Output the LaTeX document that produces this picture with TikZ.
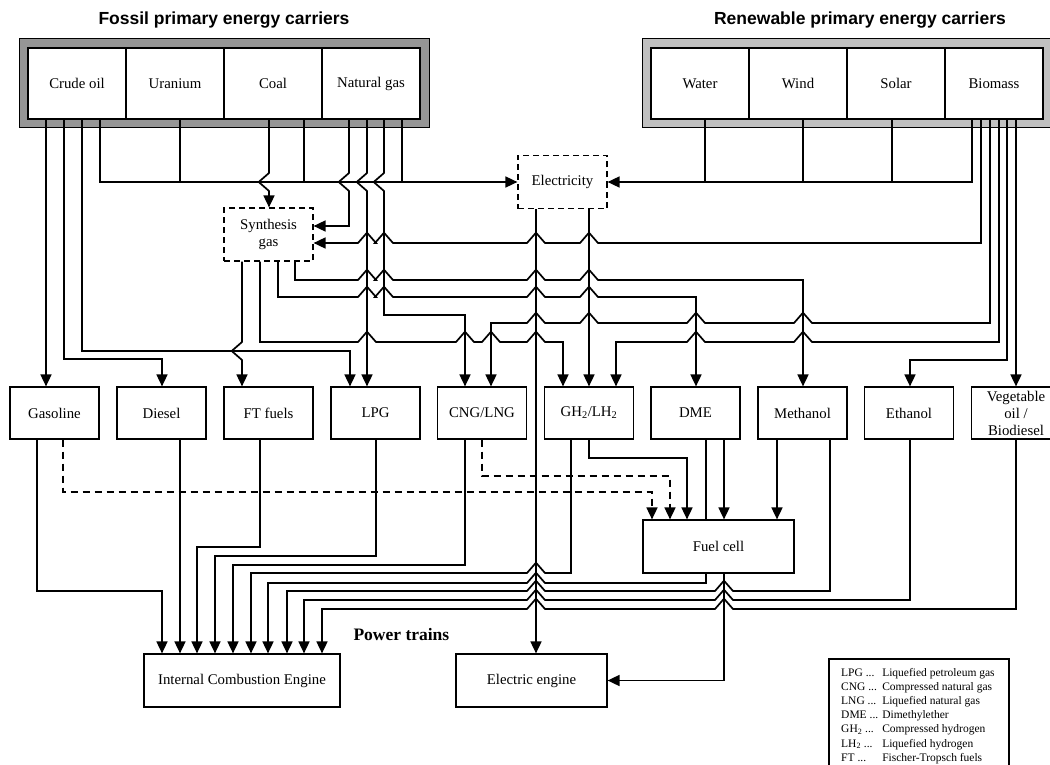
\documentclass[tikz,border=0pt]{standalone}
\usepackage{fontspec}
\setmainfont{Liberation Serif}
\newfontfamily\headfont{Liberation Sans}
\usetikzlibrary{arrows.meta}

\definecolor{fossilgray}{RGB}{150,150,150}
\definecolor{renewgray}{RGB}{192,192,192}

% hops: horizontal line going right / left, vertical line going down
\newcommand{\hopR}[2]{-- (#1-9,#2) -- (#1-2,#2-8) .. controls (#1,#2-10.5) .. (#1+2,#2-8) -- (#1+9,#2)}
\newcommand{\hopL}[2]{-- (#1+9,#2) -- (#1+2,#2-8) .. controls (#1,#2-10.5) .. (#1-2,#2-8) -- (#1-9,#2)}
\newcommand{\hopD}[2]{-- (#1,#2-9) -- (#1-8,#2-2) .. controls (#1-10.5,#2) .. (#1-8,#2+2) -- (#1,#2+9)}

\tikzset{
	cell/.style={draw, fill=white, line width=1.2pt, minimum width=98pt, minimum height=71pt, inner sep=0pt, font=\fontsize{14.8}{17}\selectfont},
	fuel/.style={draw, fill=white, line width=1.2pt, minimum width=89pt, minimum height=52pt, inner sep=0pt, align=center, font=\fontsize{14.8}{17}\selectfont},
	inter/.style={fuel, minimum height=53pt, dash pattern=on 6pt off 4pt},
	engine/.style={fuel, minimum height=53pt},
	link/.style={line width=1.7pt},
	flow/.style={link, -{Triangle[length=12pt,width=11pt]}},
	dflow/.style={flow, dash pattern=on 7pt off 5pt},
	headline/.style={font=\headfont\bfseries\fontsize{17.5}{20}\selectfont}
}

\begin{document}
\begin{tikzpicture}[x=1pt,y=-1pt]

	\useasboundingbox (0,0) rectangle (1050,765);

	% primary energy carriers
	\node[headline] (fossil) at (224,20) {Fossil primary energy carriers};
	\node[headline] (renew) at (860,20) {Renewable primary energy carriers};

	\draw[fill=fossilgray, line width=1pt] (19,39) rectangle (429,128);
	\draw[fill=renewgray, line width=1pt] (642,39) rectangle (1052,128);

	\node[cell] (crude) at (77,83.5) {Crude oil};
	\node[cell] (uranium) at (175,83.5) {Uranium};
	\node[cell] (coal) at (273,83.5) {Coal};
	\node[cell] (natgas) at (371,83.5) {Natural gas};

	\node[cell] (water) at (700,83.5) {Water};
	\node[cell] (wind) at (798,83.5) {Wind};
	\node[cell] (solar) at (896,83.5) {Solar};
	\node[cell] (biomass) at (994,83.5) {Biomass};

	% intermediate carriers
	\node[inter] (elec) at (562.5,182) {Electricity};
	\node[inter] (syngas) at (268.5,234.5) {Synthesis\\gas};

	% fuels
	\node[fuel] (gasoline) at (54.5,413) {Gasoline};
	\node[fuel] (diesel) at (161.5,413) {Diesel};
	\node[fuel] (ftfuels) at (268.5,413) {FT fuels};
	\node[fuel] (lpg) at (375.5,413) {LPG};
	\node[fuel] (cng) at (482,413) {CNG/LNG};
	\node[fuel] (ghlh) at (589,413) {GH\textsubscript{2}/LH\textsubscript{2}};
	\node[fuel] (dme) at (695.5,413) {DME};
	\node[fuel] (methanol) at (802.5,413) {Methanol};
	\node[fuel] (ethanol) at (909,413) {Ethanol};
	\node[fuel] (vegoil) at (1016,413) {Vegetable\\oil /\\Biodiesel};

	% power trains
	\node[engine, minimum width=151pt] (fuelcell) at (718.5,546.5) {Fuel cell};
	\node[engine, minimum width=196pt] (ice) at (242,680.5) {Internal Combustion Engine};
	\node[engine, minimum width=151pt] (eengine) at (531.5,680.5) {Electric engine};
	\node[anchor=west, font=\bfseries\fontsize{17.5}{20}\selectfont] (powertrains) at (350,635) {Power trains};

	% crude oil, uranium, coal, natural gas
	\draw[flow] (46,0 |- crude.south) -- (46,0 |- gasoline.north);
	\draw[flow] (64,0 |- crude.south) -- (64,359) -- (162,359) -- (162,0 |- diesel.north);
	\draw[flow] (82,0 |- crude.south) -- (82,351) -- (350,351) -- (350,0 |- lpg.north);
	\draw[flow] (100,0 |- crude.south) |- (elec.west);
	\draw[link] (180,0 |- uranium.south) -- (180,0 |- elec.west);
	\draw[flow] (269,0 |- coal.south) \hopD{269}{182} -- (269,0 |- syngas.north);
	\draw[link] (304,0 |- coal.south) -- (304,0 |- elec.west);
	\draw[flow] (349,0 |- natgas.south) \hopD{349}{182} -- (349,226) -- (syngas.east |- 0,226);
	\draw[flow] (367,0 |- natgas.south) \hopD{367}{182} -- (367,0 |- lpg.north);
	\draw[flow] (384,0 |- natgas.south) \hopD{384}{182} -- (384,315) -- (465,315) -- (465,0 |- cng.north);
	\draw[link] (402,0 |- natgas.south) -- (402,0 |- elec.west);

	% water, wind, solar, biomass
	\draw[flow] (972,0 |- biomass.south) |- (elec.east);
	\draw[link] (705,0 |- water.south) -- (705,0 |- elec.east);
	\draw[link] (803,0 |- wind.south) -- (803,0 |- elec.east);
	\draw[link] (892,0 |- solar.south) -- (892,0 |- elec.east);
	\draw[flow] (981,0 |- biomass.south) -- (981,243) \hopL{589}{243} \hopL{536}{243} \hopL{384}{243} \hopL{367}{243} -- (syngas.east |- 0,243);
	\draw[flow] (990,0 |- biomass.south) -- (990,323) \hopL{803}{323} \hopL{696}{323} \hopL{589}{323} \hopL{536}{323} -- (491,323) -- (491,0 |- cng.north);
	\draw[flow] (999,0 |- biomass.south) -- (999,342) \hopL{803}{342} \hopL{696}{342} -- (616,342) -- (616,0 |- ghlh.north);
	\draw[flow] (1007,0 |- biomass.south) -- (1007,360) -- (910,360) -- (910,0 |- ethanol.north);
	\draw[flow] (1016,0 |- biomass.south) -- (vegoil.north);

	% electricity and synthesis gas
	\draw[flow] (536,0 |- elec.south) -- (536,0 |- eengine.north);
	\draw[flow] (589,0 |- elec.south) -- (ghlh.north);
	\draw[flow] (242,0 |- syngas.south) \hopD{242}{351} -- (242,0 |- ftfuels.north);
	\draw[flow] (260,0 |- syngas.south) -- (260,342) \hopR{367}{342} \hopR{465}{342} \hopR{491}{342} \hopR{536}{342} -- (563,342) -- (563,0 |- ghlh.north);
	\draw[flow] (278,0 |- syngas.south) -- (278,297) \hopR{367}{297} \hopR{384}{297} \hopR{536}{297} \hopR{589}{297} -- (696,297) -- (696,0 |- dme.north);
	\draw[flow] (295,0 |- syngas.south) -- (295,280) \hopR{367}{280} \hopR{384}{280} \hopR{536}{280} \hopR{589}{280} -- (803,280) -- (803,0 |- methanol.north);

	% fuels to power trains
	\draw[flow] (37,0 |- gasoline.south) -- (37,591) -- (162,591) -- (162,0 |- ice.north);
	\draw[dflow] (63,0 |- gasoline.south) -- (63,492) -- (652,492) -- (652,0 |- fuelcell.north);
	\draw[flow] (180,0 |- diesel.south) -- (180,0 |- ice.north);
	\draw[flow] (260,0 |- ftfuels.south) -- (260,547) -- (197,547) -- (197,0 |- ice.north);
	\draw[flow] (376,0 |- lpg.south) -- (376,556) -- (215,556) -- (215,0 |- ice.north);
	\draw[flow] (465,0 |- cng.south) -- (465,565) -- (233,565) -- (233,0 |- ice.north);
	\draw[dflow] (482,0 |- cng.south) -- (482,476) -- (670,476) -- (670,0 |- fuelcell.north);
	\draw[flow] (571,0 |- ghlh.south) -- (571,573) \hopL{536}{573} -- (251,573) -- (251,0 |- ice.north);
	\draw[flow] (589,0 |- ghlh.south) -- (589,458) -- (687,458) -- (687,0 |- fuelcell.north);
	\draw[link] (706,0 |- dme.south) -- (706,0 |- fuelcell.north);
	\draw[flow] (706,0 |- fuelcell.south) -- (706,583) \hopL{536}{583} -- (268,583) -- (268,0 |- ice.north);
	\draw[flow] (724,0 |- dme.south) -- (724,0 |- fuelcell.north);
	\draw[flow] (777,0 |- methanol.south) -- (777,0 |- fuelcell.north);
	\draw[flow] (830,0 |- methanol.south) -- (830,591) \hopL{724}{591} \hopL{536}{591} -- (287,591) -- (287,0 |- ice.north);
	\draw[flow] (910,0 |- ethanol.south) -- (910,600) \hopL{724}{600} \hopL{536}{600} -- (304,600) -- (304,0 |- ice.north);
	\draw[flow] (1016,0 |- vegoil.south) -- (1016,609) \hopL{724}{609} \hopL{536}{609} -- (322,609) -- (322,0 |- ice.north);
	\draw[flow] (724,0 |- fuelcell.south) |- (eengine.east);

	% abbreviations
	\draw[line width=1.2pt] (829,770) -- (829,659) -- (1009,659) -- (1009,770);
	\node[anchor=north west, inner sep=0pt, font=\fontsize{11.5}{14.2}\selectfont] (legend) at (841,666) {%
		\begin{tabular}{@{}l@{\hspace{4pt}}l@{}}
			LPG ... & Liquefied petroleum gas\\
			CNG ... & Compressed natural gas\\
			LNG ... & Liquefied natural gas\\
			DME ... & Dimethylether\\
			GH\textsubscript{2} ... & Compressed hydrogen\\
			LH\textsubscript{2} ... & Liquefied hydrogen\\
			FT ... & Fischer-Tropsch fuels
		\end{tabular}};

\end{tikzpicture}
\end{document}
